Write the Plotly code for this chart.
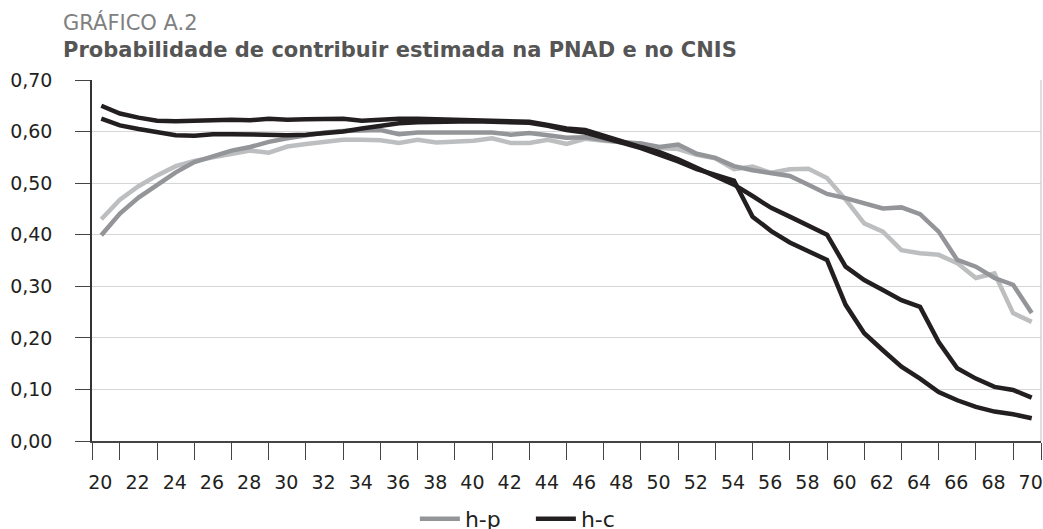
import plotly.graph_objects as go

ages = list(range(20, 71))

h_c = [0.650, 0.635, 0.627, 0.621, 0.620, 0.620, 0.622, 0.623, 0.622, 0.625,
       0.623, 0.624, 0.625, 0.625, 0.621, 0.624, 0.625, 0.625, 0.624, 0.624,
       0.623, 0.622, 0.621, 0.619, 0.613, 0.606, 0.603, 0.593, 0.581, 0.570,
       0.560, 0.546, 0.530, 0.512, 0.497, 0.475, 0.452, 0.435, 0.418, 0.400,
       0.338, 0.312, 0.293, 0.273, 0.260, 0.192, 0.141, 0.121, 0.105, 0.099,
       0.084]

m_c = [0.625, 0.612, 0.605, 0.599, 0.593, 0.592, 0.595, 0.595, 0.594, 0.594,
       0.593, 0.594, 0.596, 0.600, 0.606, 0.612, 0.616, 0.618, 0.619, 0.620,
       0.620, 0.619, 0.619, 0.617, 0.611, 0.603, 0.598, 0.589, 0.578, 0.568,
       0.556, 0.542, 0.527, 0.515, 0.505, 0.435, 0.407, 0.385, 0.367, 0.351,
       0.264, 0.209, 0.176, 0.144, 0.121, 0.095, 0.079, 0.066, 0.057, 0.052,
       0.044]

h_p = [0.399, 0.441, 0.472, 0.497, 0.521, 0.541, 0.553, 0.563, 0.570, 0.580,
       0.587, 0.593, 0.598, 0.601, 0.602, 0.603, 0.595, 0.598, 0.598, 0.598,
       0.599, 0.598, 0.594, 0.597, 0.593, 0.588, 0.589, 0.583, 0.579, 0.577,
       0.570, 0.575, 0.557, 0.549, 0.533, 0.525, 0.520, 0.514, 0.497, 0.479,
       0.471, 0.461, 0.451, 0.453, 0.440, 0.406, 0.351, 0.338, 0.316, 0.303,
       0.248]

m_p = [0.430, 0.468, 0.494, 0.515, 0.533, 0.543, 0.550, 0.556, 0.563, 0.559,
       0.571, 0.576, 0.581, 0.584, 0.584, 0.583, 0.578, 0.584, 0.579, 0.580,
       0.582, 0.587, 0.578, 0.578, 0.584, 0.576, 0.586, 0.582, 0.579, 0.577,
       0.568, 0.566, 0.555, 0.548, 0.527, 0.532, 0.520, 0.527, 0.528, 0.510,
       0.468, 0.422, 0.406, 0.370, 0.364, 0.361, 0.345, 0.316, 0.325, 0.248,
       0.231]

x_labels = list(range(20, 71, 2))
x_minor_ticks = [19.5] + list(range(21, 70, 2)) + [70.5]
y_ticks = [0.0, 0.1, 0.2, 0.3, 0.4, 0.5, 0.6, 0.7]

FONT = "DejaVu Sans"
BLACK = "#231f20"
DARK_GRAY = "#939598"
LIGHT_GRAY = "#bcbec0"

W, H = 1043, 529
ML, MR, MT, MB = 92, 2, 80, 88
PW = W - ML - MR
PH = H - MT - MB

fig = go.Figure()
fig.add_trace(go.Scatter(x=ages, y=m_p, name="m-p", mode="lines",
                         line=dict(color=LIGHT_GRAY, width=4.5), showlegend=False))
fig.add_trace(go.Scatter(x=ages, y=h_p, name="h-p", mode="lines",
                         line=dict(color=DARK_GRAY, width=4.5)))
fig.add_trace(go.Scatter(x=ages, y=m_c, name="m-c", mode="lines",
                         line=dict(color=BLACK, width=4.5), showlegend=False))
fig.add_trace(go.Scatter(x=ages, y=h_c, name="h-c", mode="lines",
                         line=dict(color=BLACK, width=4.5)))

fig.update_layout(
    width=W, height=H,
    margin=dict(l=ML, r=MR, t=MT, b=MB, autoexpand=False),
    paper_bgcolor="white", plot_bgcolor="white",
    separators=",.",
    font=dict(family=FONT, color=BLACK, size=18),
    xaxis=dict(
        range=[19.5, 70.5], tickmode="array", tickvals=x_labels,
        ticktext=[str(v) for v in x_labels],
        ticks="", showgrid=False, zeroline=False,
        showline=True, linecolor="#444444", linewidth=1.5,
        tickfont=dict(size=19, family=FONT, color=BLACK),
        ticklabelstandoff=23, ticklabelshift=-1, ticklabeloverflow="allow",
        minor=dict(tickmode="array", tickvals=x_minor_ticks, ticks="outside",
                   ticklen=17, tickwidth=1.3, tickcolor="#444444", showgrid=False),
    ),
    yaxis=dict(
        range=[0, 0.70], tickmode="array", tickvals=y_ticks, tickformat=".2f",
        ticks="outside", ticklen=15, tickwidth=1.3, tickcolor="#444444",
        showline=True, linecolor="#333333", linewidth=1.5,
        showgrid=True, gridcolor="#d6d6d6", gridwidth=1.3, zeroline=False,
        tickfont=dict(size=19, family=FONT, color=BLACK),
        ticklabelstandoff=19,
    ),
    legend=dict(
        orientation="h", xref="container", yref="container",
        x=0.509, xanchor="center", y=10 / H, yanchor="middle",
        font=dict(size=22, family=FONT, color=BLACK),
        bgcolor="rgba(0,0,0,0)", itemwidth=40, entrywidth=61,
    ),
    annotations=[
        dict(text="GRÁFICO A.2", xref="paper", yref="paper",
             x=(61 - ML) / PW, y=1 + (MT - 23) / PH, xanchor="left", yanchor="middle",
             showarrow=False, font=dict(size=21, family=FONT, color="#808080")),
        dict(text="<b>Probabilidade de contribuir estimada na PNAD e no CNIS</b>",
             xref="paper", yref="paper",
             x=(61 - ML) / PW, y=1 + (MT - 50) / PH, xanchor="left", yanchor="middle",
             showarrow=False, font=dict(size=21, family=FONT, color="#555555")),
    ],
    shapes=[
        dict(type="line", xref="paper", yref="paper", x0=1, x1=1, y0=0, y1=1,
             line=dict(color="#cccccc", width=1.3)),
    ],
)

fig.write_html(
    "out.html",
    config={"displayModeBar": False},
    post_script="document.body.style.margin='0';document.body.style.overflow='hidden';",
)
